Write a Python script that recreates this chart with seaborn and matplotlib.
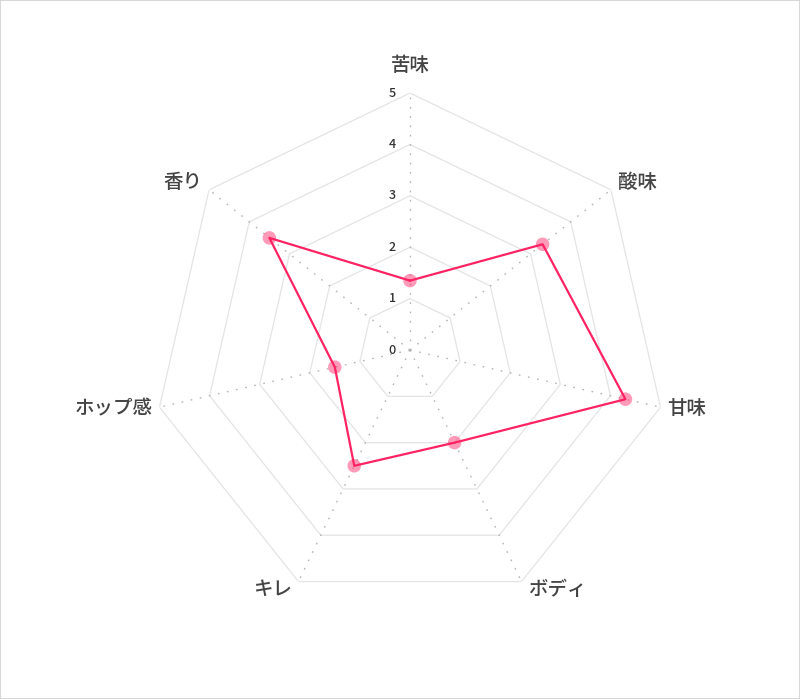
import numpy as np
import matplotlib

matplotlib.use("Agg")
import matplotlib.pyplot as plt
from matplotlib.patches import Rectangle
import seaborn as sns

# data
categories = ["苦味", "酸味", "甘味", "ボディ", "キレ", "ホップ感", "香り"]
scores = [1.35, 3.3, 4.3, 2.0, 2.5, 1.5, 3.5]
ring_levels = [0, 1, 2, 3, 4, 5]
tick_labels = ["0", "1", "2", "3", "4", "5"]

LINE_COLOR = "#ff2363"
GRID_COLOR = "#e4e4e4"
SPOKE_COLOR = "#b5b5b5"
TEXT_COLOR = "#444444"

sns.set_theme(style="white")
plt.rcParams["font.family"] = ["Noto Sans CJK JP", "DejaVu Sans"]

n = len(categories)
theta = np.linspace(0, 2 * np.pi, n, endpoint=False)
theta_closed = np.append(theta, theta[0] + 2 * np.pi)

fig = plt.figure(figsize=(8, 6.99), dpi=100)
fig.patches.append(Rectangle((0, 0), 1, 1, transform=fig.transFigure,
                             fill=False, edgecolor="#cfcfcf", linewidth=1.2))

ax = fig.add_axes([0.19125, 0.1316, 0.6425, 0.7353], projection="polar")
ax.set_theta_zero_location("N")
ax.set_theta_direction(-1)
ax.set_ylim(0, 5)
ax.grid(False)
ax.spines["polar"].set_visible(False)
ax.set_xticks([])
ax.set_yticks([])
ax.set_facecolor("none")

# heptagon rings
for lvl in ring_levels[1:]:
    ax.plot(theta_closed, [lvl] * (n + 1), color=GRID_COLOR, lw=0.9, zorder=1)

# dotted spokes
for t in theta:
    ax.plot([t, t], [0, 5], color=SPOKE_COLOR, lw=1.0,
            linestyle=(0, (1.2, 5.5)), zorder=1)

# tick labels along the top axis
for lvl, lab in zip(ring_levels, tick_labels):
    ax.annotate(lab, xy=(0, lvl), xytext=(-10, 0), textcoords="offset points",
                ha="right", va="center", fontsize=9, fontweight="medium",
                color="#333333")

# category labels
for t, lab in zip(theta, categories):
    s = np.sin(t)
    if abs(s) < 1e-6:
        ha, off = "center", (0, 20)
    elif s > 0:
        ha, off = "left", (5, 5)
    else:
        ha, off = "right", (-5, 5)
    if abs(s) > 0.9:
        off = (off[0], -1)
    elif np.cos(t) < -0.5:
        off = (off[0], -6)
    ax.annotate(lab, xy=(t, 5), xytext=off, textcoords="offset points",
                ha=ha, va="center", fontsize=14, fontweight="medium",
                color=TEXT_COLOR)

# series
vals_closed = scores + scores[:1]
sns.lineplot(x=theta_closed, y=vals_closed, ax=ax, sort=False,
             color=LINE_COLOR, lw=1.6, zorder=3)
sns.scatterplot(x=theta, y=scores, ax=ax, color=LINE_COLOR, alpha=0.45,
                s=95, edgecolor="none", zorder=4)
ax.set_xlabel("")
ax.set_ylabel("")

fig.savefig("out.png", dpi=100)
